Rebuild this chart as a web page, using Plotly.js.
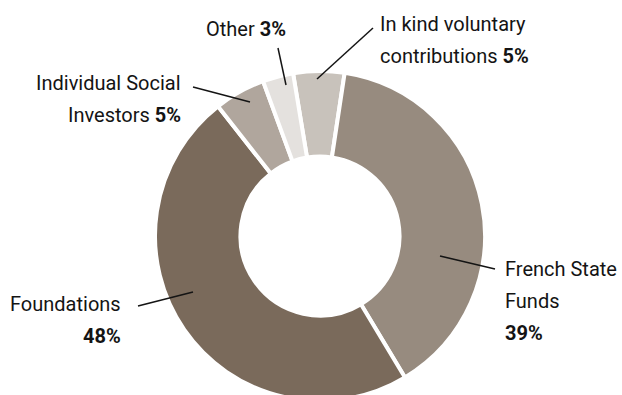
<!DOCTYPE html>
<html>
<head>
<meta charset="utf-8">
<script src="https://cdn.plot.ly/plotly-3.0.1.min.js"></script>
<style>
  html, body { margin: 0; padding: 0; overflow: hidden; background: #fff; }
  #chart { width: 622px; height: 404px; }
</style>
</head>
<body>
<div id="chart"></div>
<script>
// ---- data ----
const labels = ['In kind voluntary contributions', 'French State Funds', 'Foundations', 'Individual Social Investors', 'Other'];
const values = [5, 39, 48, 5, 3];
// label text split into lines; percentage appended ("same" = on last line, "new" = own line)
const labelLines = [
  ['In kind voluntary', 'contributions'],
  ['French State', 'Funds'],
  ['Foundations'],
  ['Individual Social', 'Investors'],
  ['Other']
];
const pctPlacement = ['same', 'new', 'new', 'same', 'same'];

// ---- styling / placement ----
const colors = ['#c8c2bb', '#978b7f', '#7a6a5b', '#b0a69d', '#e4e1de'];
const W = 622, H = 404;
// label blocks: anchor x (px), first line centre y (px), xanchor; leader line px coords
const place = [
  {x: 378, y: 24, xa: 'left',  leader: [373, 28, 317, 79]},
  {x: 503, y: 269, xa: 'left', leader: [495, 269, 440, 256]},
  {x: 123, y: 304, xa: 'right', leader: [138, 306, 193, 292]},
  {x: 183, y: 83, xa: 'right', leader: [193, 87, 250, 102]},
  {x: 288, y: 29, xa: 'right', leader: [278, 48, 286, 85]}
];
const lineGap = 32;
const px = v => v / W;
const py = v => 1 - v / H;
const FONT = 'Roboto, "Liberation Sans", sans-serif';

const annotations = [];
const shapes = [];
labels.forEach((lab, i) => {
  const lines = labelLines[i].slice();
  const pct = '<b>' + values[i] + '%</b>';
  if (pctPlacement[i] === 'same') lines[lines.length - 1] += ' ' + pct;
  else lines.push(pct);
  const p = place[i];
  lines.forEach((t, k) => {
    annotations.push({
      xref: 'paper', yref: 'paper',
      x: px(p.x), y: py(p.y + k * lineGap),
      xanchor: p.xa, yanchor: 'middle',
      text: t, showarrow: false,
      font: {family: FONT, size: 20, color: '#141414'}
    });
  });
  const L = p.leader;
  shapes.push({
    type: 'line', xref: 'paper', yref: 'paper',
    x0: px(L[0]), y0: py(L[1]), x1: px(L[2]), y1: py(L[3]),
    line: {color: '#141414', width: 1.5}
  });
});

const trace = {
  type: 'pie',
  labels: labels,
  values: values,
  hole: 0.482,
  sort: false,
  direction: 'clockwise',
  rotation: -9.4,
  textinfo: 'none',
  hoverinfo: 'label+percent',
  marker: {colors: colors, line: {color: '#ffffff', width: 4}},
  domain: {x: [155 / W, 485 / W], y: [0, 336 / H]},
  showlegend: false
};

Plotly.newPlot('chart', [trace], {
  width: W, height: H,
  margin: {l: 0, r: 0, t: 0, b: 0},
  paper_bgcolor: '#ffffff',
  showlegend: false,
  annotations: annotations,
  shapes: shapes
}, {displayModeBar: false, staticPlot: true});
</script>
</body>
</html>
